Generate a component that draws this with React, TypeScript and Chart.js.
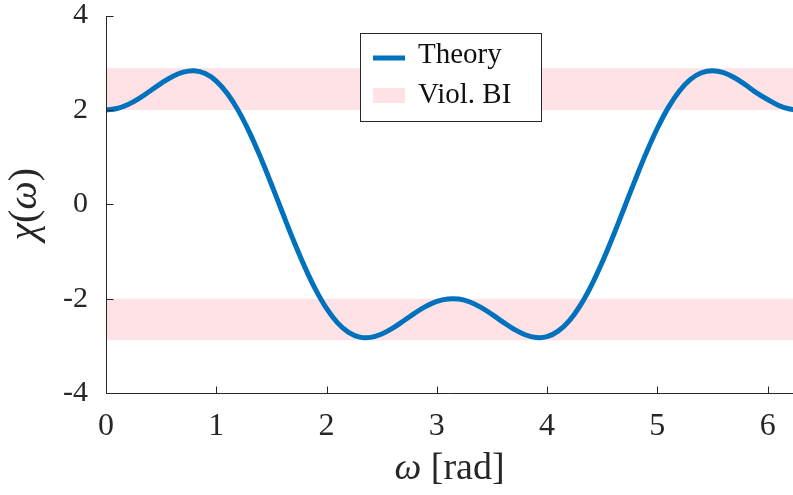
import React, { useEffect, useRef } from "react";
import { Chart, registerables } from "chart.js";

Chart.register(...registerables);

// ω [rad] sample positions and χ(ω) values
const OMEGA = [
  0, 0.1, 0.2, 0.3, 0.4, 0.5, 0.6, 0.7, 0.8, 0.9,
  1.0, 1.1, 1.2, 1.3, 1.4, 1.5, 1.6, 1.7, 1.8, 1.9,
  2.0, 2.1, 2.2, 2.3, 2.4, 2.5, 2.6, 2.7, 2.8, 2.9,
  3.0, 3.1, 3.2, 3.3, 3.4, 3.5, 3.6, 3.7, 3.8, 3.9,
  4.0, 4.1, 4.2, 4.3, 4.4, 4.5, 4.6, 4.7, 4.8, 4.9,
  5.0, 5.1, 5.2, 5.3, 5.4, 5.5, 5.6, 5.7, 5.8, 5.9,
  6.0, 6.1, 6.2, 6.3,
];
const CHI = [
  2.0, 2.03, 2.115, 2.244, 2.401, 2.562, 2.703, 2.799, 2.828, 2.769,
  2.611, 2.348, 1.984, 1.528, 1.0, 0.423, -0.175, -0.765, -1.316, -1.805,
  -2.209, -2.515, -2.716, -2.815, -2.821, -2.75, -2.625, -2.469, -2.307, -2.165,
  -2.059, -2.006, -2.01, -2.071, -2.186, -2.334, -2.497, -2.649, -2.765, -2.824,
  -2.805, -2.689, -2.471, -2.147, -1.728, -1.227, -0.667, -0.074, 0.523, 1.094,
  1.611, 2.053, 2.401, 2.646, 2.786, 2.83, 2.789, 2.68, 2.529, 2.362,
  2.22, 2.094, 2.017, 2.001,
];

// "Viol. BI" bands: [from, to]
const BAND_OMEGA = [0, 6.3];
const UPPER_BAND = [2, 2.88];
const LOWER_BAND = [-2, -2.88];

const X_RANGE = [0, 6.23];
const Y_RANGE = [-4, 4];
const X_STEP = 1;
const Y_STEP = 2;

const SERIES_LABEL = "Theory";
const BAND_LABEL = "Viol. BI";

const BLUE = "#0072BD";
const PINK = "rgb(255,226,229)";
const AXIS = "#262626";
const FONT = "'Liberation Serif', 'DejaVu Serif', serif";

const decor = {
  id: "decor",
  afterDraw(chart: any) {
    const { ctx, chartArea: a, scales } = chart;
    const x = scales.x;
    const y = scales.y;
    ctx.save();
    // axes + inward ticks
    ctx.strokeStyle = AXIS;
    ctx.lineWidth = 1;
    const L = Math.round(a.left) + 0.5;
    const B = Math.round(a.bottom) + 0.5;
    ctx.beginPath();
    ctx.moveTo(L, Math.round(a.top));
    ctx.lineTo(L, B);
    ctx.lineTo(chart.width, B);
    x.ticks.forEach((t: any) => {
      const p = Math.round(x.getPixelForValue(t.value)) + 0.5;
      ctx.moveTo(p, B);
      ctx.lineTo(p, B - 7);
    });
    y.ticks.forEach((t: any) => {
      const p = Math.round(y.getPixelForValue(t.value)) + 0.5;
      ctx.moveTo(L, p);
      ctx.lineTo(L + 7, p);
    });
    ctx.stroke();

    // legend
    const lx = 360.5, ly = 33.5, lw = 181, lh = 88;
    ctx.fillStyle = "#fff";
    ctx.fillRect(lx, ly, lw, lh);
    ctx.strokeStyle = AXIS;
    ctx.lineWidth = 1;
    ctx.strokeRect(lx, ly, lw, lh);
    ctx.strokeStyle = BLUE;
    ctx.lineWidth = 5;
    ctx.beginPath();
    ctx.moveTo(373, 58);
    ctx.lineTo(405, 58);
    ctx.stroke();
    ctx.fillStyle = PINK;
    ctx.fillRect(373, 88, 32, 15);
    ctx.fillStyle = "#111";
    ctx.font = `29px ${FONT}`;
    ctx.textBaseline = "alphabetic";
    ctx.textAlign = "left";
    ctx.fillText(SERIES_LABEL, 418, 63);
    ctx.fillText(BAND_LABEL, 418, 103);

    // x title: ω [rad]
    ctx.fillStyle = AXIS;
    const italic = `italic 38px ${FONT}`;
    const roman = `38px ${FONT}`;
    ctx.font = italic;
    const w1 = ctx.measureText("ω").width;
    ctx.font = roman;
    const w2 = ctx.measureText(" [rad]").width;
    const cx = (a.left + a.right) / 2;
    let sx = cx - (w1 + w2) / 2;
    ctx.font = italic;
    ctx.fillText("ω", sx, 479);
    ctx.font = roman;
    ctx.fillText(" [rad]", sx + w1, 479);

    // y title: χ(ω)
    const italicY = `italic 40px ${FONT}`;
    const romanY = `40px ${FONT}`;
    const parts: [string, string][] = [
      ["χ", italicY],
      ["(", romanY],
      ["ω", italicY],
      [")", romanY],
    ];
    let total = 0;
    const widths = parts.map(([t, f]) => {
      ctx.font = f;
      const w = ctx.measureText(t).width;
      total += w;
      return w;
    });
    ctx.translate(36, (a.top + a.bottom) / 2);
    ctx.rotate(-Math.PI / 2);
    let px = -total / 2;
    parts.forEach(([t, f], i) => {
      ctx.font = f;
      ctx.fillText(t, px, 0);
      px += widths[i];
    });
    ctx.restore();
  },
};

export default function App() {
  const ref = useRef<HTMLCanvasElement | null>(null);
  useEffect(() => {
    document.body.style.margin = "0";
    const canvas = ref.current;
    if (!canvas) return;
    const curve = OMEGA.map((w, i) => ({ x: w, y: CHI[i] }));
    const upper = BAND_OMEGA.map((w) => ({ x: w, y: UPPER_BAND[1] }));
    const lower = BAND_OMEGA.map((w) => ({ x: w, y: LOWER_BAND[1] }));
    const chart = new Chart(canvas, {
      type: "line",
      data: {
        datasets: [
          {
            label: SERIES_LABEL,
            data: curve,
            borderColor: BLUE,
            borderWidth: 5,
            pointRadius: 0,
            tension: 0.4,
            fill: false,
            order: 0,
          },
          {
            label: BAND_LABEL,
            data: upper,
            borderWidth: 0,
            borderColor: "rgba(0,0,0,0)",
            backgroundColor: PINK,
            pointRadius: 0,
            fill: { value: UPPER_BAND[0] },
            order: 1,
          },
          {
            label: BAND_LABEL + " (low)",
            data: lower,
            borderWidth: 0,
            borderColor: "rgba(0,0,0,0)",
            backgroundColor: PINK,
            pointRadius: 0,
            fill: { value: LOWER_BAND[0] },
            order: 2,
          },
        ],
      },
      options: {
        animation: false,
        responsive: true,
        maintainAspectRatio: false,
        layout: { padding: { top: 15.5, right: 0, left: 0, bottom: 0 } },
        plugins: {
          legend: { display: false },
          tooltip: { enabled: false },
          filler: { propagate: false },
        },
        scales: {
          x: {
            type: "linear",
            min: X_RANGE[0],
            max: X_RANGE[1],
            afterFit: (s: any) => {
              s.height = 102;
              s.paddingLeft = 0;
              s.paddingRight = 0;
            },
            ticks: {
              stepSize: X_STEP,
              includeBounds: false,
              color: AXIS,
              font: { family: FONT, size: 32 },
              padding: 14,
              maxRotation: 0,
            },
            grid: { display: true, drawOnChartArea: false, drawTicks: false },
            border: { display: false },
          },
          y: {
            type: "linear",
            min: Y_RANGE[0],
            max: Y_RANGE[1],
            afterFit: (s: any) => {
              s.width = 106;
              s.paddingTop = 0;
              s.paddingBottom = 0;
            },
            ticks: {
              stepSize: Y_STEP,
              color: AXIS,
              font: { family: FONT, size: 30 },
              padding: 18,
            },
            grid: { display: true, drawOnChartArea: false, drawTicks: false },
            border: { display: false },
          },
        },
      },
      plugins: [decor],
    });
    return () => chart.destroy();
  }, []);
  return (
    <div style={{ position: "absolute", left: 0, top: 0, width: 793, height: 495 }}>
      <canvas ref={ref} />
    </div>
  );
}
